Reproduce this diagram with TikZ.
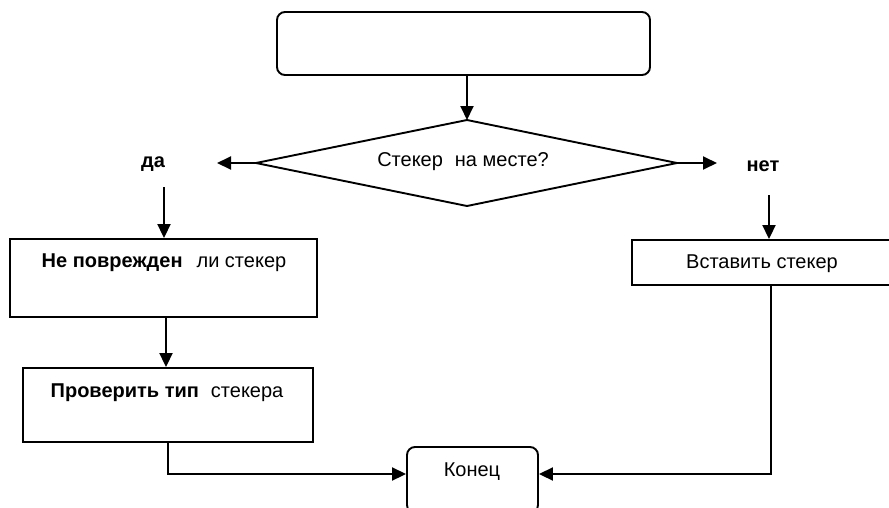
\documentclass[tikz,border=0pt]{standalone}
\usepackage{fontspec}
\setmainfont{Liberation Sans}
\usetikzlibrary{arrows.meta}
\tikzset{
  ln/.style={line width=1.9pt, draw=black},
  arr/.style={ln, -{Triangle[length=14pt,width=13pt]}},
  boxn/.style={ln, rectangle, inner sep=0pt},
  rbox/.style={ln, rectangle, rounded corners=8pt, inner sep=0pt},
  txt/.style={font=\fontsize{20}{22}\selectfont, inner sep=0pt},
  btxt/.style={font=\fontsize{20}{22}\selectfont\bfseries, inner sep=0pt},
}
\begin{document}
\begin{tikzpicture}[x=1pt,y=-1pt]
\clip (0,0) rectangle (889,507);
\fill[white] (0,0) rectangle (889,507);
% top box
\node[rbox, minimum width=373pt, minimum height=63pt] (top) at (463.5,43.5) {};
% diamond
\coordinate (dt) at (467,120);
\coordinate (dr) at (677,163);
\coordinate (db) at (467,206);
\coordinate (dl) at (256,163);
\draw[ln, line join=miter] (dt) -- (dr) -- (db) -- (dl) -- cycle;
\node[txt] (dtext) at (463,162) {Стекер\hspace{12pt}на месте?};
\draw[arr] (top.south -| dt) -- (dt);
% yes / no labels
\node[btxt] (yes) at (153,164) {да};
\node[btxt] (no) at (763,166) {нет};
\coordinate (yesa) at (217,163);
\coordinate (noa) at (717,163);
\draw[arr] (dl) -- (yesa);
\draw[arr] (dr) -- (noa);
% left branch
\node[boxn, minimum width=307pt, minimum height=78pt] (b1) at (163.5,278) {};
\node[txt] (b1t) at (164,263) {\textbf{Не поврежден}\hspace{14pt}ли стекер};
\coordinate (yesb) at (164,187);
\draw[arr] (yesb) -- (yesb |- b1.north);
\node[boxn, minimum width=290pt, minimum height=74pt] (b2) at (168,405) {};
\node[txt] (b2t) at (167,393) {\textbf{Проверить тип}\hspace{12pt}стекера};
\draw[arr] (b1.south -| 166,0) -- (b2.north -| 166,0);
% end
\node[rbox, minimum width=131pt, minimum height=66pt] (end) at (472.5,480) {};
\node[txt] (endt) at (472,472) {Конец};
\coordinate (ey) at (0,474);
\draw[arr] (b2.south -| 168,0) -- (168,474) -- (end.west |- ey);
% right branch
\node[boxn, minimum width=260pt, minimum height=45pt] (b3) at (762,262.5) {};
\node[txt] (b3t) at (762,264) {Вставить стекер};
\coordinate (nob) at (769,195);
\draw[arr] (nob) -- (nob |- b3.north);
\draw[arr] (b3.south -| 771,0) -- (771,474) -- (end.east |- ey);
\end{tikzpicture}
\end{document}
